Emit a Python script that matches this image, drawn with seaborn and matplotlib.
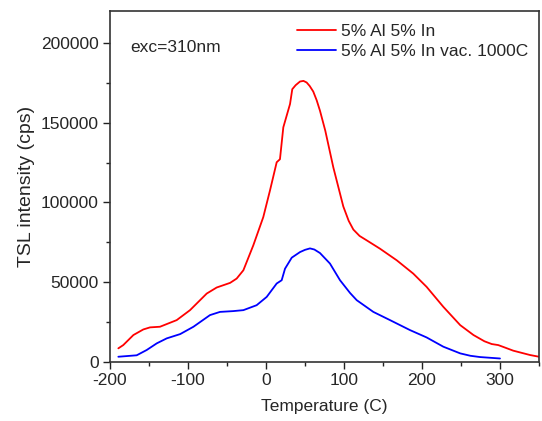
import matplotlib
matplotlib.use("Agg")
import matplotlib.pyplot as plt
import matplotlib.ticker as mticker
import seaborn as sns
import pandas as pd

label_red = "5% Al 5% In"
label_blue = "5% Al 5% In vac. 1000C"

red_t = [-189.3, -183, -170, -157.3, -148.7, -135.9, -114.5, -97.4, -76, -63.2, -46, -37.6, -29,
         -16.3, -3.5, 5.1, 13.7, 17.9, 22.2, 30.8, 33.7, 38, 43.6, 48, 52.1, 56, 60.6, 65, 69.2,
         76, 86.3, 99.1, 106, 112, 120, 129.1, 146.2, 167.6, 188.8, 205.9, 227.3, 249, 266, 280,
         289.4, 297.8, 305, 317, 338.5, 350]
red_i = [8560, 10600, 16900, 20400, 21700, 22100, 26250, 32500, 42900, 46700, 49600, 52300, 57500,
         73100, 90800, 107500, 125200, 127100, 147100, 161700, 171000, 173500, 175800, 176200, 175200,
         173000, 169500, 164000, 157500, 145000, 122000, 97500, 88500, 83000, 79000, 76250, 71000,
         63750, 55400, 47100, 34600, 23100, 16900, 13000, 11250, 10600, 9300, 7100, 4375, 3300]

blue_t = [-189.3, -165.8, -153, -140, -127.3, -110, -93, -71.8, -59, -42, -29, -12, 0.9, 13.7, 20.1,
          24.4, 33, 43.6, 50, 56.4, 62, 69.2, 82, 94.9, 107.7, 116.3, 137.6, 159, 184.6, 205.9,
          227.3, 249, 262, 274.4, 300]
blue_i = [3300, 4200, 7500, 11700, 14800, 17500, 22100, 29400, 31400, 31900, 32500, 35600, 40800,
          49200, 51250, 58500, 65400, 68900, 70300, 71200, 70500, 68300, 61700, 51250, 43300, 38750,
          31400, 26250, 20000, 15400, 9600, 5400, 3900, 3100, 2200]

df = pd.concat([
    pd.DataFrame({"T": red_t, "I": red_i, "s": label_red}),
    pd.DataFrame({"T": blue_t, "I": blue_i, "s": label_blue}),
], ignore_index=True)

sns.set_style("ticks")
plt.rcParams["font.family"] = ["Liberation Sans", "DejaVu Sans"]

W, H = 542, 421
fig = plt.figure(figsize=(W / 100, H / 100), dpi=100)
L, R, T, B = 110, 539, 11, 362
ax = fig.add_axes([L / W, 1 - B / H, (R - L) / W, (B - T) / H])

sns.lineplot(data=df, x="T", y="I", hue="s", palette={label_red: "#ff0000", label_blue: "#0000ff"},
             sort=False, linewidth=1.3, ax=ax)

ax.set_xlim(-200, 350)
ax.set_ylim(0, 220000)
ax.xaxis.set_major_locator(mticker.MultipleLocator(100))
ax.xaxis.set_minor_locator(mticker.MultipleLocator(50))
ax.yaxis.set_major_locator(mticker.MultipleLocator(50000))
ax.yaxis.set_minor_locator(mticker.MultipleLocator(25000))
ax.yaxis.set_major_formatter(mticker.FuncFormatter(lambda v, p: f"{int(v)}"))
ax.xaxis.set_major_formatter(mticker.FuncFormatter(lambda v, p: f"{int(v)}"))
ax.tick_params(which="major", direction="out", length=5, width=1, labelsize=12.5, color="#222222",
               pad=3)
ax.tick_params(which="minor", direction="out", length=3, width=1, color="#222222")
for sp in ax.spines.values():
    sp.set_linewidth(1.2)
    sp.set_color("#333333")

ax.set_xlabel("Temperature (C)", fontsize=12.5, labelpad=8)
ax.set_ylabel("TSL intensity (cps)", fontsize=14, labelpad=4)

ax.text((130 - L) / (R - L), (B - 47) / (B - T), "exc=310nm", fontsize=12.5, va="center",
        ha="left", transform=ax.transAxes)

leg = ax.legend(loc="upper left", frameon=False, fontsize=12.5, handlelength=2.25,
                handletextpad=0.25, labelspacing=0.25, borderaxespad=0, borderpad=0.3,
                bbox_to_anchor=((292 - L) / (R - L), (B - 19) / (B - T)))
leg.set_title(None)
for h in leg.get_lines():
    h.set_linewidth(1.3)

fig.savefig("out.png", dpi=100)
